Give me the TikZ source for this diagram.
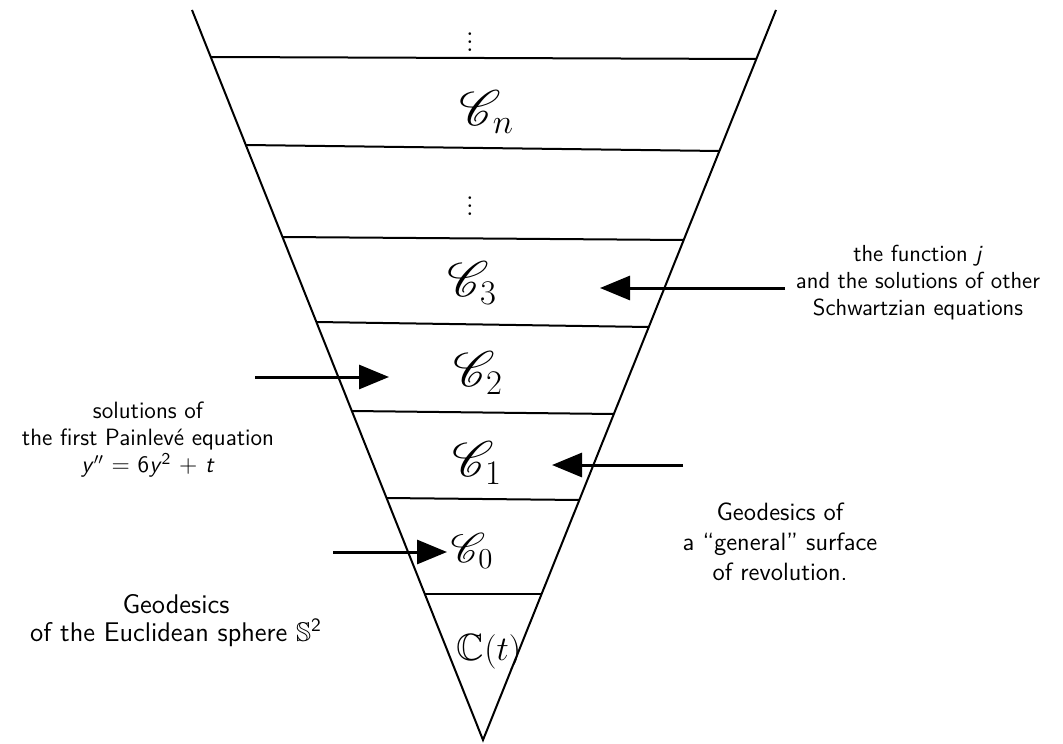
\documentclass[tikz,border=0pt]{standalone}
\usepackage{amssymb}
\usepackage{mathrsfs}
\usetikzlibrary{arrows.meta}
\begin{document}
\begin{tikzpicture}[x=0.5pt,y=-0.5pt,
  edge/.style={line width=1pt},
  arr/.style={line width=1.5pt,-{Triangle[length=15pt,width=12pt]}},
  lbl/.style={font=\sffamily\fontsize{11.8}{13.5}\selectfont,align=center},
  lblbig/.style={font=\sffamily\fontsize{12.5}{15}\selectfont,align=center},
  glyph/.style={font=\fontsize{26}{26}\selectfont,inner sep=0pt},
  dots/.style={font=\fontsize{14}{14}\selectfont,inner sep=0pt}]
\useasboundingbox (0,0) rectangle (1063,743);
% triangle
\coordinate (L0) at (192,10);
\coordinate (R0) at (776,10);
\coordinate (A) at (483,740);
\draw[edge] (L0) -- (A) -- (R0);
% levels
\coordinate (l1) at (210.8,57);  \coordinate (r1) at (756.4,59);
\coordinate (l2) at (245.9,145); \coordinate (r2) at (719.5,151);
\coordinate (l3) at (282.6,237); \coordinate (r3) at (683.8,240);
\coordinate (l4) at (316.5,322); \coordinate (r4) at (648.9,327);
\coordinate (l5) at (352.0,411); \coordinate (r5) at (614.0,414);
\coordinate (l6) at (386.7,498); \coordinate (r6) at (579.5,500);
\coordinate (l7) at (425.0,594); \coordinate (r7) at (541.8,594);
\foreach \i in {1,...,7} \draw[edge] (l\i) -- (r\i);
% glyphs
\node[dots] (d1) at (470,36) {$\vdots$};
\node[glyph] (cn) at (487,112) {$\mathscr{C}_{n}$};
\node[dots] (d2) at (470,200) {$\vdots$};
\node[glyph] (c3) at (472,283) {$\mathscr{C}_{3}$};
\node[glyph] (c2) at (478,373) {$\mathscr{C}_{2}$};
\node[glyph] (c1) at (477,463) {$\mathscr{C}_{1}$};
\node[glyph,font=\fontsize{22}{22}\selectfont] (c0) at (472,551) {$\mathscr{C}_{0}$};
\node[glyph,font=\fontsize{19}{19}\selectfont] (ct) at (489,652) {$\mathbb{C}(t)$};
% labels
\node[lbl,font=\sffamily\fontsize{11.6}{13.5}\selectfont] (tj) at (918,283) {the function \textsl{j}\\and the solutions of other\\Schwartzian equations};
\node[lbl] (tp) at (148,440) {solutions of\\the first Painlev\'e equation\\\textsl{y}$''$ $=$ 6\textsl{y}\textsuperscript{2} $+$ \textsl{t}};
\node[lblbig] (tg) at (780,542) {Geodesics of\\a ``general'' surface\\of revolution.};
\node[lbl,font=\sffamily\fontsize{13.5}{14}\selectfont] (ts) at (176,621) {Geodesics\\of the Euclidean sphere $\mathbb{S}$\textsuperscript{2}};
% arrows
\coordinate (a1s) at (785,288); \coordinate (a1e) at (600,288);
\coordinate (a2s) at (255,377); \coordinate (a2e) at (389,377);
\coordinate (a3s) at (683,465); \coordinate (a3e) at (552,465);
\coordinate (a4s) at (333,552); \coordinate (a4e) at (447,552);
\draw[arr] (a1s) -- (a1e);
\draw[arr] (a2s) -- (a2e);
\draw[arr] (a3s) -- (a3e);
\draw[arr] (a4s) -- (a4e);
\end{tikzpicture}
\end{document}
